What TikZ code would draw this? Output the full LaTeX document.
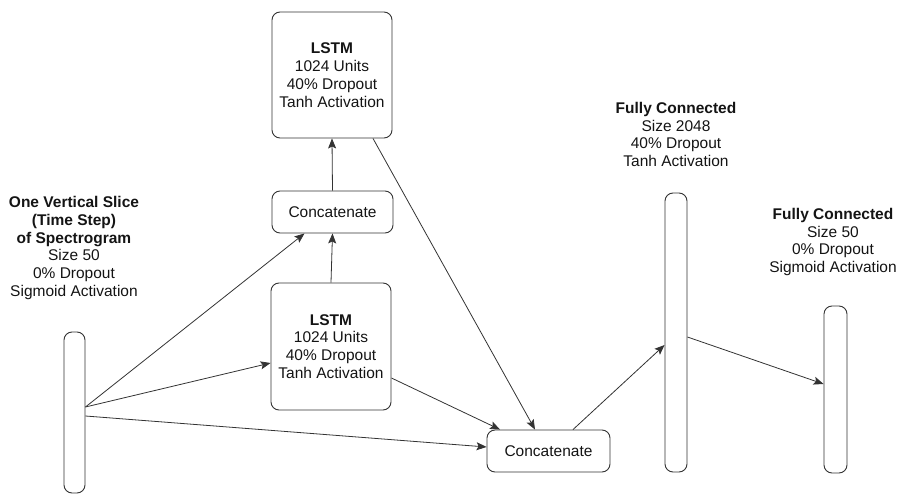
\documentclass[tikz,border=0pt]{standalone}
\usepackage{fontspec}
\setmainfont{Liberation Sans}
\usetikzlibrary{arrows.meta}
\definecolor{edge}{HTML}{333333}
\definecolor{txt}{HTML}{141414}
\begin{document}
\begin{tikzpicture}[x=1pt,y=-1pt,
  every node/.style={font=\fontsize{15.5}{17.8}\selectfont, text=txt},
  blk/.style={draw=edge, line width=0.9pt, rounded corners=8pt, inner sep=0pt, align=center},
  lbl/.style={align=center, inner sep=0pt},
  conn/.style={draw=edge, line width=0.8pt, -{Stealth[length=10pt,width=8pt,inset=2pt]}},
  plain/.style={draw=edge, line width=0.8pt}]
\useasboundingbox (0,0) rectangle (903,495);
% nodes
\node[blk, minimum width=21pt, minimum height=161pt] (lbar) at (74.5,412.5) {};
\node[blk, minimum width=120pt, minimum height=126pt] (ulstm) at (332,75)
  {\textbf{LSTM}\\1024 Units\\40\% Dropout\\Tanh Activation};
\node[blk, minimum width=121pt, minimum height=42pt] (tconcat) at (332.5,212) {Concatenate};
\node[blk, minimum width=120pt, minimum height=127pt] (llstm) at (331,346.5)
  {\textbf{LSTM}\\1024 Units\\40\% Dropout\\Tanh Activation};
\node[blk, minimum width=123pt, minimum height=42pt] (bconcat) at (548.5,451) {Concatenate};
\node[blk, minimum width=22pt, minimum height=279pt] (fc1) at (676,332.5) {};
\node[blk, minimum width=23pt, minimum height=167pt] (fc2) at (835.5,389.5) {};
% labels
\node[lbl] (tin) at (74,248) {\textbf{One Vertical Slice}\\\textbf{(Time Step)}\\\textbf{of Spectrogram}\\Size 50\\0\% Dropout\\Sigmoid Activation};
\node[lbl] (tfc1) at (676,134.5) {\textbf{Fully Connected}\\Size 2048\\40\% Dropout\\Tanh Activation};
\node[lbl] (tfc2) at (833,242) {\textbf{Fully Connected}\\Size 50\\0\% Dropout\\Sigmoid Activation};
% connectors
\draw[conn] ([yshift=5.5pt]lbar.east) -- ([xshift=-28pt]tconcat.south);
\draw[conn] ([yshift=5.5pt]lbar.east) -- ([yshift=-16.5pt]llstm.west);
\draw[conn] ([yshift=-3.5pt]lbar.east) -- ([yshift=4pt]bconcat.west);
\draw[conn] (llstm.north) -- (tconcat.south);
\draw[conn] (tconcat.north) -- (ulstm.south);
\draw[conn] ([xshift=41pt]ulstm.south) -- ([xshift=-13.5pt]bconcat.north);
\draw[conn] ([yshift=-31.5pt]llstm.east) -- ([xshift=-48.5pt]bconcat.north);
\draw[conn] ([xshift=24.5pt]bconcat.north) -- ([yshift=-12.5pt]fc1.west);
\draw[conn] ([yshift=-4.5pt]fc1.east) -- ([yshift=5.5pt]fc2.west);
\end{tikzpicture}
\end{document}
